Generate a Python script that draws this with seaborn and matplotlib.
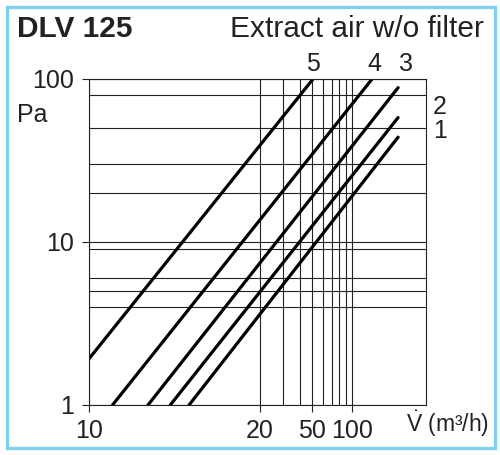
import numpy as np
import pandas as pd
import matplotlib
matplotlib.use("Agg")
import matplotlib.pyplot as plt
from matplotlib.patches import Rectangle
import seaborn as sns

# Data (airflow m3/h, pressure drop Pa)
curve_names = ["5", "4", "3", "2", "1"]
flow_start = [10.0, 11.0, 12.7, 13.9, 15.0]
flow_end = [50.5, 142.0, 224.0, 224.0, 224.0]
dp_start = [1.92, 1.0, 1.0, 1.0, 1.0]
dp_end = [100.0, 100.0, 88.5, 58.0, 44.0]

x_major = [10, 20, 50, 100]
x_minor = [30, 40, 60, 70, 80, 90]
y_major = [1, 10, 100]
y_minor = [4, 5, 6, 9, 20, 30, 50, 80]

# the drawing stretches 10..20 m3/h, log above 20
K = np.log10(20) / np.log10(2)
L20 = np.log10(20)


def fwd(x):
    x = np.asarray(x, dtype=float)
    lx = np.log10(np.clip(x, 1e-9, None))
    return np.where(x >= 20, lx, L20 - (L20 - lx) * K)


def inv(u):
    u = np.asarray(u, dtype=float)
    return np.where(u >= L20, 10 ** u, 10 ** (L20 - (L20 - u) / K))


rows = []
for name, x0, x1, y0, y1 in zip(curve_names, flow_start, flow_end, dp_start, dp_end):
    rows.append({"curve": name, "flow": x0, "dp": y0})
    rows.append({"curve": name, "flow": x1, "dp": y1})
df = pd.DataFrame(rows)

sns.set_style("ticks")
plt.rcParams["font.family"] = ["Liberation Sans", "DejaVu Sans"]
plt.rcParams["mathtext.fontset"] = "custom"
plt.rcParams["mathtext.rm"] = "Liberation Sans"
plt.rcParams["mathtext.it"] = "Liberation Sans"

ink = "#222222"
fig = plt.figure(figsize=(5, 4.55), dpi=100)
ax = fig.add_axes([89 / 500, 1 - 405 / 455, 337 / 500, 326 / 455])

sns.lineplot(data=df, x="flow", y="dp", hue="curve", palette={n: "black" for n in curve_names},
             linewidth=2.3, legend=False, ax=ax, sort=False, estimator=None, units="curve")

ax.set_xscale("function", functions=(fwd, inv))
ax.set_yscale("log")
ax.set_xlim(10, 365)
ax.set_ylim(1, 100)

ax.set_xticks(x_major)
ax.set_xticklabels([str(v) for v in x_major])
ax.set_xticks(x_minor, minor=True)
ax.set_yticks(y_major)
ax.set_yticklabels([str(v) for v in y_major])
ax.set_yticks(y_minor, minor=True)
ax.tick_params(which="major", length=5, width=0.8, color=ink, labelcolor=ink, labelsize=18, pad=5)
ax.tick_params(axis="y", which="major", pad=6)
ax.tick_params(which="minor", length=0)
ax.grid(True, which="both", color=ink, linewidth=0.8)
for s in ax.spines.values():
    s.set_color(ink)
    s.set_linewidth(0.8)
ax.set_xlabel("")
ax.set_ylabel("")

# curve labels
lab_pos = {"5": (313, 64), "4": (374, 64), "3": (406, 64), "2": (440, 107), "1": (440, 131)}
for name, (px, py) in lab_pos.items():
    fig.text(px / 500, 1 - py / 455, name, fontsize=18, ha="center", va="center", color=ink)

fig.text(17 / 500, 1 - 37 / 455, "DLV 125", fontsize=21.5, fontweight="bold", ha="left", va="baseline",
         color=ink)
fig.text(484 / 500, 1 - 37 / 455, "Extract air w/o filter", fontsize=21.5, ha="right", va="baseline",
         color=ink)
fig.text(17 / 500, 1 - 122 / 455, "Pa", fontsize=18, ha="left", va="baseline", color=ink)
fig.text(489 / 500, 1 - 432 / 455, r"$\dot{\mathrm{V}}$ (m³/h)", fontsize=16.5, ha="right",
         va="baseline", color=ink)

fig.patches.append(Rectangle((6.5 / 500, 1 - 447.5 / 455), 488 / 500, 441 / 455, transform=fig.transFigure,
                             fill=False, edgecolor="#7fd3f0", linewidth=2.4))

fig.savefig("out.png", dpi=100)
